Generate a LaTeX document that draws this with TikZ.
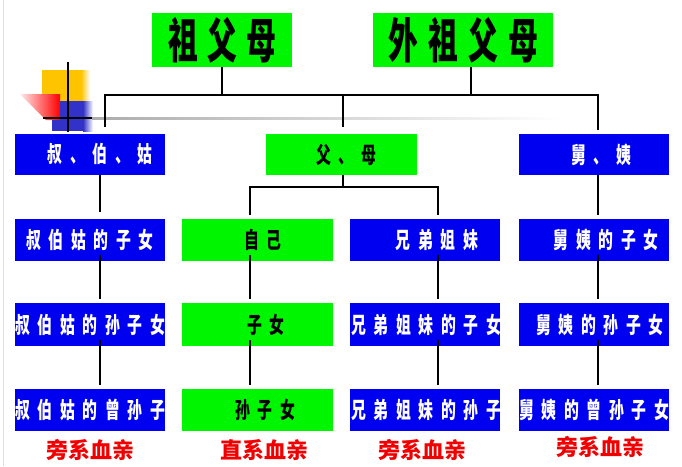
\documentclass[tikz,border=0pt]{standalone}
\usepackage{fontspec}
\usetikzlibrary{calc}
\newfontfamily\topfont{Noto Sans CJK SC}[FakeStretch=0.62]
\newfontfamily\rowfont{Noto Sans CJK SC}[FakeStretch=0.66]
\newfontfamily\lblfont{Noto Sans CJK SC}
\definecolor{boxgreen}{RGB}{0,245,0}
\definecolor{boxblue}{RGB}{0,0,240}
\definecolor{decoyellow}{RGB}{255,196,0}
\definecolor{decoblue}{RGB}{50,50,200}
\definecolor{lblred}{RGB}{240,0,0}
\newcommand\spaced[2]{\def\mypitch{#1}\myloop#2\relax}
\def\myloop#1{\ifx\relax#1\else\makebox[\mypitch]{#1}\expandafter\myloop\fi}
\newcommand\toptext[2]{\makebox[0pt]{\topfont\fontsize{48}{52}\selectfont\bfseries\spaced{#1}{#2}}}
\newcommand\rowtext[2]{\makebox[0pt]{\rowfont\fontsize{22.5}{24}\selectfont\bfseries\hspace*{#1}\spaced{22.5pt}{#2}}}
\newcommand\lbltext[1]{\lblfont\fontsize{22}{24}\selectfont\bfseries\spaced{22pt}{#1}}
\begin{document}
\begin{tikzpicture}[x=1pt,y=-1pt,
  topbox/.style={fill=boxgreen, inner sep=0pt, minimum height=54pt, text=black},
  greenbox/.style={fill=boxgreen, inner sep=0pt, minimum width=151pt, minimum height=42pt, text=black},
  bluebox/.style={fill=boxblue, inner sep=0pt, minimum width=150pt, minimum height=42pt, text=white},
  lbl/.style={inner sep=0pt, text=lblred},
  conn/.style={draw=black, line width=2.8pt},
  deco/.style={line width=2.5pt, black}]
\useasboundingbox (0,0) rectangle (682,466);
\fill[white] (0,0) rectangle (682,466);
\draw[gray!25, line width=1pt] (3.5,0) -- (3.5,466);
% decoration
\fill[decoyellow] (42,70) rectangle (81,104);
\shade[left color=decoyellow, right color=white] (81,70) rectangle (90,104);
\shade[left color=red!8, right color=red] (20,94) -- (60,94) -- (60,120) -- (46,120) -- cycle;
\fill[decoblue] (60,101) rectangle (83,131);
\fill[decoblue] (52,120) rectangle (60,131);
\shade[left color=decoblue, right color=white] (83,101) rectangle (93,131);
\draw[deco] (68,62) -- (68,132);
\draw[deco] (43,118) -- (92,118);
\shade[left color=gray!65, right color=white] (92,117) rectangle (560,119.5);
% boxes
\node[topbox, minimum width=140pt] (zfm) at (222,40) {\toptext{39pt}{祖父母}};
\node[topbox, minimum width=180pt] (wzfm) at (463,40) {\toptext{40pt}{外祖父母}};
\node[bluebox, minimum height=41pt] (sbg) at (90,154.5) {\rowtext{20pt}{叔、伯、姑}};
\node[greenbox, minimum height=41pt] (fm) at (341.5,154.5) {\rowtext{9pt}{父、母}};
\node[bluebox, minimum height=41pt] (jy) at (594,154.5) {\rowtext{14pt}{舅、姨}};
\node[bluebox] (b21) at (90,240) {\rowtext{0pt}{叔伯姑的子女}};
\node[greenbox] (g22) at (257.5,240) {\rowtext{11pt}{自己}};
\node[bluebox] (b23) at (425,240) {\rowtext{24pt}{兄弟姐妹}};
\node[bluebox] (b24) at (594,240) {\rowtext{24pt}{舅姨的子女}};
\node[bluebox, minimum height=43pt] (b31) at (90,324.5) {\rowtext{0pt}{叔伯姑的孙子女}};
\node[greenbox, minimum height=43pt] (g32) at (257.5,324.5) {\rowtext{17pt}{子女}};
\node[bluebox, minimum height=43pt] (b33) at (425,324.5) {\rowtext{2pt}{兄弟姐妹的子女}};
\node[bluebox, minimum height=43pt] (b34) at (594,324.5) {\rowtext{12pt}{舅姨的孙子女}};
\node[bluebox] (b41) at (90,410) {\rowtext{0pt}{叔伯姑的曾孙子}};
\node[greenbox] (g42) at (257.5,410) {\rowtext{15pt}{孙子女}};
\node[bluebox] (b43) at (425,410) {\rowtext{2pt}{兄弟姐妹的孙子}};
\node[bluebox] (b44) at (594,410) {\rowtext{0pt}{舅姨的曾孙子女}};
% labels
\node[lbl] (l1) at (90,450) {\lbltext{旁系血亲}};
\node[lbl] (l2) at (264,450) {\lbltext{直系血亲}};
\node[lbl] (l3) at (422,450) {\lbltext{旁系血亲}};
\node[lbl] (l4) at (600,447) {\lbltext{旁系血亲}};
% connector coordinates
\coordinate (tl) at (105,95);
\coordinate (tr) at (598,95);
\coordinate (wx) at (471,0);
\coordinate (fmx) at (343,0);
\coordinate (jl) at (250,187);
\coordinate (jr) at (438,187);
\coordinate (x1) at (100,0);
\coordinate (x2) at (250,0);
\coordinate (x3) at (438,0);
\coordinate (x4) at (598,0);
% connectors
\draw[conn] (zfm.south) -- (zfm.south |- tl);
\draw[conn] (wzfm.south -| wx) -- (wx |- tl);
\draw[conn] ($(tl |- sbg.north)+(0,-7)$) -- (tl) -- (tr) -- ($(tr |- jy.north)+(0,-4)$);
\draw[conn] (fmx |- tl) -- ($(fmx |- fm.north)+(0,-7)$);
\draw[conn] (fm.south -| fmx) -- (fmx |- jl);
\draw[conn] ($(jl |- g22.north)+(0,-4)$) -- (jl) -- (jr) -- ($(jr |- b23.north)+(0,-4)$);
\draw[conn] (sbg.south -| x1) -- ($(b21.north -| x1)+(0,-7)$);
\draw[conn] (jy.south -| x4) -- ($(b24.north -| x4)+(0,-4)$);
\draw[conn] ($(b21.south -| x1)+(0,-6)$) -- ($(b31.north -| x1)+(0,-4)$);
\draw[conn] ($(g22.south -| x2)+(0,-6)$) -- ($(g32.north -| x2)+(0,-4)$);
\draw[conn] ($(b23.south -| x3)+(0,-6)$) -- ($(b33.north -| x3)+(0,-4)$);
\draw[conn] ($(b24.south -| x4)+(0,-6)$) -- ($(b34.north -| x4)+(0,-4)$);
\draw[conn] ($(b31.south -| x1)+(0,-6)$) -- ($(b41.north -| x1)+(0,-4)$);
\draw[conn] ($(g32.south -| x2)+(0,-6)$) -- ($(g42.north -| x2)+(0,-4)$);
\draw[conn] ($(b33.south -| x3)+(0,-6)$) -- ($(b43.north -| x3)+(0,-4)$);
\draw[conn] ($(b34.south -| x4)+(0,-6)$) -- ($(b44.north -| x4)+(0,-4)$);
\end{tikzpicture}
\end{document}
